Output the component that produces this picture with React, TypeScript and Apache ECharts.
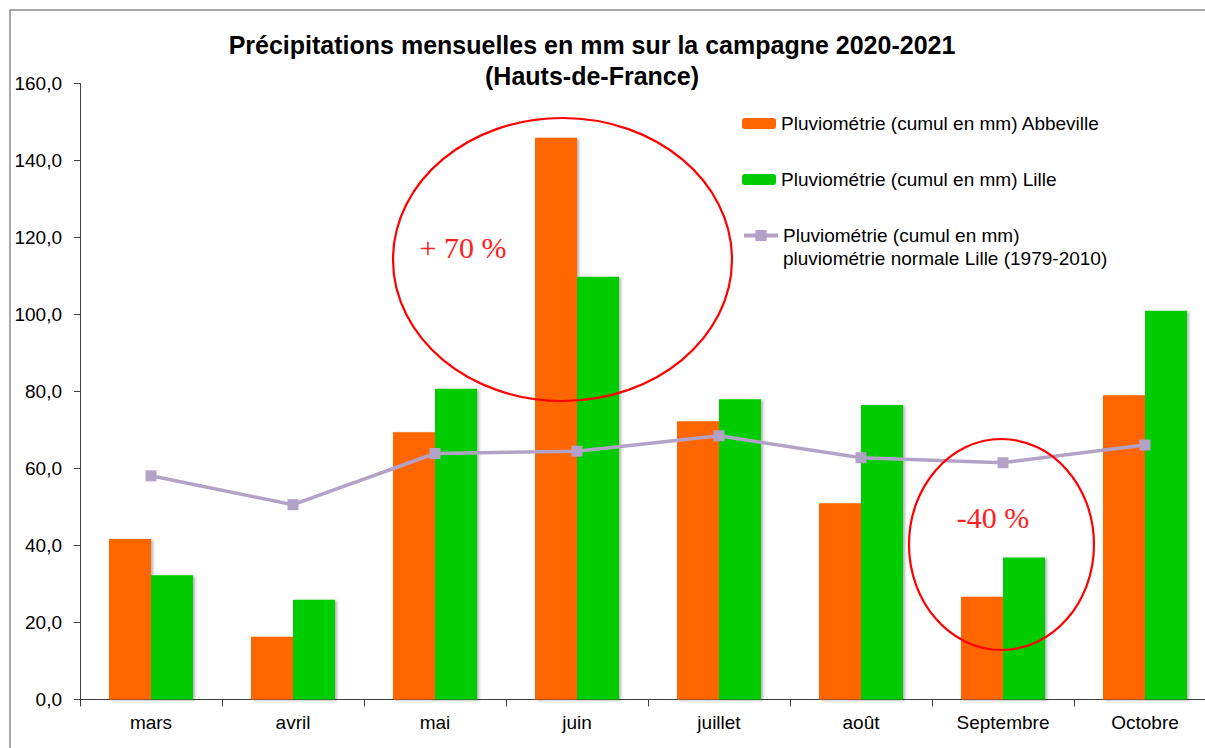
import React, { useEffect, useRef } from "react";
import * as echarts from "echarts";

const months = ["mars", "avril", "mai", "juin", "juillet", "août", "Septembre", "Octobre"];
const abbeville = [41.7, 16.3, 69.4, 145.9, 72.3, 51.0, 26.7, 79.0];
const lille = [32.3, 25.9, 80.7, 109.8, 78.0, 76.5, 36.9, 101.0];
const normale = [58.1, 50.6, 63.9, 64.5, 68.5, 62.8, 61.5, 66.1];
const yTicks = { min: 0, max: 160, interval: 20 };

const nameAbb = "Pluviométrie (cumul en mm) Abbeville";
const nameLille = "Pluviométrie (cumul en mm) Lille";
const nameNorm = "Pluviométrie (cumul en mm)\npluviométrie normale Lille (1979-2010)";

const FONT = "'Liberation Sans', Arial, sans-serif";
const CHART_W = 1230;

export default function App() {
  const ref = useRef<HTMLDivElement>(null);
  useEffect(() => {
    if (!ref.current) return;
    const chart = echarts.init(ref.current, null, { renderer: "svg" });
    const legendText = { fontSize: 19, color: "#000", fontFamily: FONT };
    chart.setOption({
      animation: false,
      backgroundColor: "#fff",
      textStyle: { fontFamily: FONT },
      title: {
        text: "Précipitations mensuelles en mm sur la campagne 2020-2021\n(Hauts-de-France)",
        left: 592,
        top: 29,
        textAlign: "center",
        padding: 0,
        textStyle: { fontSize: 25, fontWeight: "bold", color: "#000", lineHeight: 31, fontFamily: "'Liberation Sans Narrow', 'Arial Narrow', " + FONT },
      },
      legend: [
        {
          data: [nameAbb],
          left: 742,
          top: 114,
          padding: 0,
          itemWidth: 34,
          itemHeight: 11,
          textStyle: legendText,
        },
        {
          data: [nameLille],
          left: 742,
          top: 170,
          padding: 0,
          itemWidth: 34,
          itemHeight: 11,
          textStyle: legendText,
        },
        {
          data: [nameNorm],
          left: 742,
          top: 201,
          padding: 0,
          itemWidth: 34,
          itemHeight: 14,
          formatter: (n: string) => " \n" + n,
          lineStyle: { width: 4, color: "#B3A2C7" },
          itemStyle: { color: "#B3A2C7" },
          textStyle: { ...legendText, lineHeight: 23 },
        },
      ],
      grid: { left: 80, right: CHART_W - 1216, top: 83.5, bottom: 48.5, containLabel: false },
      xAxis: {
        type: "category",
        data: months,
        boundaryGap: true,
        axisLine: { lineStyle: { color: "#404040", width: 1 } },
        axisTick: { show: true, length: 7, alignWithLabel: false, interval: 0, lineStyle: { color: "#404040" } },
        axisLabel: { fontSize: 19, color: "#000", margin: 13, interval: 0, fontFamily: FONT },
        splitLine: { show: false },
      },
      yAxis: {
        type: "value",
        min: yTicks.min,
        max: yTicks.max,
        interval: yTicks.interval,
        axisLine: { show: true, lineStyle: { color: "#404040", width: 1 } },
        axisTick: { show: true, length: 6, lineStyle: { color: "#404040" } },
        axisLabel: {
          fontSize: 19,
          color: "#000",
          margin: 18,
          fontFamily: FONT,
          formatter: (v: number) => v.toFixed(1).replace(".", ","),
        },
        splitLine: { show: false },
      },
      series: [
        {
          name: nameAbb,
          type: "bar",
          data: abbeville,
          barWidth: 42,
          barGap: "0%",
          itemStyle: { color: "#FF6600", shadowColor: "rgba(0,0,0,0.3)", shadowBlur: 3, shadowOffsetX: 2, shadowOffsetY: 1 },
        },
        {
          name: nameLille,
          type: "bar",
          data: lille,
          barWidth: 42,
          barGap: "0%",
          itemStyle: { color: "#00CC00", shadowColor: "rgba(0,0,0,0.3)", shadowBlur: 3, shadowOffsetX: 2, shadowOffsetY: 1 },
        },
        {
          name: nameNorm,
          type: "line",
          data: normale,
          symbol: "rect",
          symbolSize: 11,
          lineStyle: { color: "#B3A2C7", width: 3.5 },
          itemStyle: { color: "#B3A2C7" },
          z: 5,
        },
      ],
      graphic: [
        {
          type: "rect",
          z: -10,
          silent: true,
          shape: { x: 10, y: 10, width: 1300, height: 800 },
          style: { fill: "none", stroke: "#8c8c8c", lineWidth: 1.5 },
        },
        {
          type: "ellipse",
          z: 100,
          silent: true,
          shape: { cx: 562.5, cy: 259.5, rx: 169.5, ry: 141.5 },
          style: { fill: "none", stroke: "#FF0000", lineWidth: 2.2 },
        },
        {
          type: "ellipse",
          z: 100,
          silent: true,
          shape: { cx: 1001.5, cy: 544.5, rx: 92.5, ry: 105.5 },
          style: { fill: "none", stroke: "#FF0000", lineWidth: 2.2 },
        },
        {
          type: "text",
          z: 100,
          x: 463,
          y: 247,
          style: {
            text: "+ 70 %",
            fontFamily: "'Liberation Serif', 'Times New Roman', serif",
            fontSize: 30,
            fill: "#FF2020",
            align: "center",
            verticalAlign: "middle",
          },
        },
        {
          type: "text",
          z: 100,
          x: 993,
          y: 517,
          style: {
            text: "-40 %",
            fontFamily: "'Liberation Serif', 'Times New Roman', serif",
            fontSize: 30,
            fill: "#FF2020",
            align: "center",
            verticalAlign: "middle",
          },
        },
      ],
    });
    return () => chart.dispose();
  }, []);
  return (
    <div style={{ position: "absolute", left: 0, top: 0, width: 1205, height: 748, overflow: "hidden", background: "#fff" }}>
      <div ref={ref} style={{ width: CHART_W, height: 748 }} />
    </div>
  );
}
